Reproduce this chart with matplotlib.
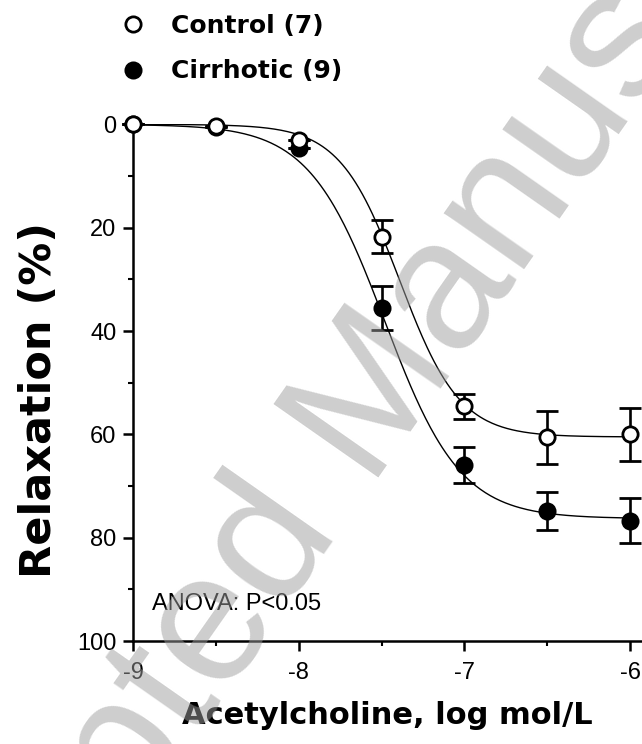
import numpy as np
import matplotlib
matplotlib.use("Agg")
import matplotlib.pyplot as plt
from matplotlib.lines import Line2D

# ---- data ----
log_conc = [-9, -8.5, -8, -7.5, -7, -6.5, -6]
control_mean = [0, 0.4, 3.0, 21.7, 54.6, 60.6, 60.0]
control_sem = [0, 0, 0, 3.2, 2.5, 5.2, 5.2]
cirrhotic_mean = [0, 0.5, 4.5, 35.5, 66.0, 74.8, 76.7]
cirrhotic_sem = [0, 0, 0, 4.3, 3.5, 3.7, 4.3]
# sigmoid fit parameters (top, logEC50, hill)
control_fit = dict(top=60.5, logec50=-7.39, hill=2.4)
cirrhotic_fit = dict(top=76.3, logec50=-7.48, hill=1.9)
labels = ["Control (7)", "Cirrhotic (9)"]
xticks = [-9, -8, -7, -6]
yticks = [0, 20, 40, 60, 80, 100]

def sigmoid(x, top, logec50, hill):
    return top / (1 + 10 ** ((logec50 - x) * hill))

fig = plt.figure(figsize=(6.42, 7.44), dpi=100)
ax = fig.add_axes([0.2072, 0.1384, 0.7928, 0.6944])

xs = np.linspace(-9, -6, 300)
ax.plot(xs, sigmoid(xs, **control_fit), color="black", lw=1.0, zorder=2)
ax.plot(xs, sigmoid(xs, **cirrhotic_fit), color="black", lw=1.0, zorder=2)

ax.errorbar(log_conc, cirrhotic_mean, yerr=cirrhotic_sem, fmt="o", ms=11,
            mfc="black", mec="black", mew=2, ecolor="black", elinewidth=1.9,
            capsize=8, capthick=1.9, zorder=3, clip_on=False)
ax.errorbar(log_conc, control_mean, yerr=control_sem, fmt="o", ms=11,
            mfc="white", mec="black", mew=2, ecolor="black", elinewidth=1.9,
            capsize=8, capthick=1.9, zorder=4, clip_on=False)

ax.set_xlim(-9, -5.928)
ax.set_ylim(100, 0)
for s in ["top", "right"]:
    ax.spines[s].set_visible(False)
for s in ["left", "bottom"]:
    ax.spines[s].set_linewidth(1.8)

ax.set_xticks(xticks)
ax.set_xticklabels([str(t) for t in xticks])
ax.set_xticks([-8.5, -7.5, -6.5], minor=True)
ax.set_yticks(yticks)
ax.set_yticklabels([str(t) for t in yticks])
ax.set_yticks([10, 30, 50, 70, 90], minor=True)
ax.tick_params(which="major", length=7, width=1.8, direction="out")
ax.tick_params(which="minor", length=3.5, width=1.5, direction="out")
ax.tick_params(axis="x", which="major", pad=8)
ax.tick_params(axis="y", which="major", pad=5)
for lab in ax.get_xticklabels() + ax.get_yticklabels():
    lab.set_fontfamily("Liberation Sans")
    lab.set_fontsize(17)

ax.set_xlabel("Acetylcholine, log mol/L", fontsize=22, fontweight="bold",
              family="DejaVu Sans", labelpad=12)
ax.set_ylabel("Relaxation (%)", fontsize=31, fontweight="bold",
              family="DejaVu Sans")
ax.yaxis.set_label_coords(-0.1434, 0.4665)

ax.text(-8.885, 94.0, "ANOVA: P<0.05", fontsize=17, family="Liberation Sans",
        ha="left", va="baseline")

handles = [
    Line2D([], [], marker="o", ls="none", ms=11, mfc="white", mec="black", mew=2),
    Line2D([], [], marker="o", ls="none", ms=11, mfc="black", mec="black", mew=2),
]
leg = fig.legend(handles, labels, loc="upper left", bbox_to_anchor=(0.1607, 1.0052),
                 frameon=False, handlelength=1.0, handletextpad=1.0,
                 labelspacing=0.87, borderaxespad=0.3,
                 prop=dict(family="DejaVu Sans", weight="bold", size=18))

# watermark
fig.text(-0.1573, -0.5621, "Accepted Manuscript", fontsize=133,
         family="Liberation Sans", color=(0.62, 0.62, 0.62), alpha=0.5,
         rotation=55, rotation_mode="anchor", ha="left", va="baseline",
         zorder=10)

fig.savefig("out.png", dpi=100)
